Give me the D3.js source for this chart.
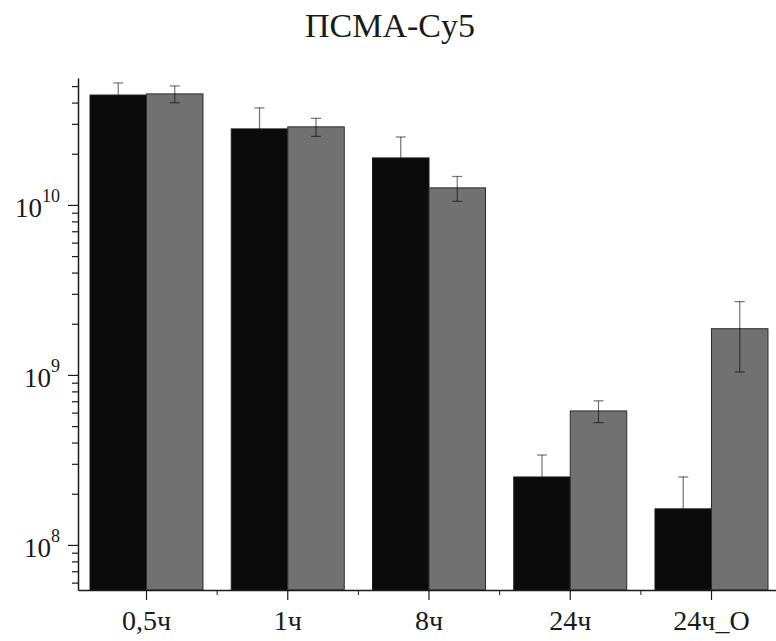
<!DOCTYPE html>
<html>
<head>
<meta charset="utf-8">
<script src="https://cdn.jsdelivr.net/npm/d3@7"></script>
<style>
  html, body { margin: 0; padding: 0; background: #fff; }
  svg { display: block; }
  text { font-family: "Liberation Serif", "Times New Roman", Times, serif; fill: #1a1a1a; }
</style>
</head>
<body>
<svg id="chart" width="776" height="641"></svg>
<script>
// Time points after injection
const categories = ["0,5ч", "1ч", "8ч", "24ч", "24ч_О"];
// Series drawn in black and in grey, with their error values
const seriesBlack = [4.43e10, 2.80e10, 1.89e10, 2.51e8, 1.63e8];
const errorBlack  = [0.79e10, 0.92e10, 0.62e10, 0.87e8, 0.88e8];
const seriesGrey  = [4.50e10, 2.88e10, 1.26e10, 6.14e8, 1.87e9];
const errorGrey   = [0.51e10, 0.35e10, 0.21e10, 0.90e8, 0.83e9];
// Log axis limits and labelled decades
const yDomain = [5.43e7, 5.58e10];
const majorTicks = [1e8, 1e9, 1e10];
const titleText = "ПСМА-Cy5";

const serif = "'Liberation Serif', 'Times New Roman', Times, serif";
const svg = d3.select("#chart");
const plot = { left: 78, right: 780, top: 78, bottom: 590 };

const x0 = d3.scaleBand()
  .domain(categories)
  .range([plot.left, plot.right])
  .paddingInner(0.2)
  .paddingOuter(0.085);

const x1 = d3.scaleBand()
  .domain(["black", "grey"])
  .range([0, x0.bandwidth()]);

const y = d3.scaleLog()
  .domain(yDomain)
  .range([plot.bottom, plot.top]);

// minor ticks: 2..9 times each decade inside the domain
const minorTicks = [];
for (let e = 7; e <= 10; e++) {
  for (let k = 2; k <= 9; k++) {
    const v = k * Math.pow(10, e);
    if (v >= yDomain[0] && v <= yDomain[1]) minorTicks.push(v);
  }
}

// Title
svg.append("text")
  .attr("x", 390)
  .attr("y", 37)
  .attr("text-anchor", "middle")
  .style("font-family", serif)
  .style("font-size", "34px")
  .text(titleText);

const series = [
  { key: "black", values: seriesBlack, errors: errorBlack, fill: "#0b0b0b", stroke: "#1a1a1a" },
  { key: "grey",  values: seriesGrey,  errors: errorGrey,  fill: "#717171", stroke: "#2e2e2e" }
];

const capHalf = 5;
const cx = (cat, key) => x0(cat) + x1(key) + x1.bandwidth() / 2;

function drawErrorBars(s) {
  const pts = categories.map((c, i) => ({ cat: c, value: s.values[i], err: s.errors[i] }));
  const g = svg.append("g")
    .attr("stroke", "#000")
    .attr("stroke-opacity", 0.55)
    .attr("stroke-width", 1.2)
    .selectAll("g")
    .data(pts)
    .join("g");
  g.append("line")
    .attr("x1", d => cx(d.cat, s.key)).attr("x2", d => cx(d.cat, s.key))
    .attr("y1", d => y(d.value + d.err))
    .attr("y2", d => y(d.value - d.err));
  [1, -1].forEach(sign => {
    g.append("line")
      .attr("x1", d => cx(d.cat, s.key) - capHalf)
      .attr("x2", d => cx(d.cat, s.key) + capHalf)
      .attr("y1", d => y(d.value + sign * d.err))
      .attr("y2", d => y(d.value + sign * d.err));
  });
}

function drawBars(s) {
  svg.append("g")
    .selectAll("rect")
    .data(categories.map((c, i) => ({ cat: c, value: s.values[i] })))
    .join("rect")
    .attr("x", d => x0(d.cat) + x1(s.key))
    .attr("width", x1.bandwidth())
    .attr("y", d => y(d.value))
    .attr("height", d => plot.bottom - y(d.value))
    .attr("fill", s.fill)
    .attr("stroke", s.stroke)
    .attr("stroke-width", 1);
}

// black bars cover the lower half of their whiskers; grey bars show them on top
drawErrorBars(series[0]);
drawBars(series[0]);
drawBars(series[1]);
drawErrorBars(series[1]);

// Y axis: major ticks with line, minor ticks without
svg.append("g")
  .attr("transform", `translate(${plot.left},0)`)
  .call(d3.axisLeft(y).tickValues(majorTicks).tickSize(10).tickSizeOuter(0).tickFormat(""));

svg.append("g")
  .attr("transform", `translate(${plot.left},0)`)
  .call(d3.axisLeft(y).tickValues(minorTicks).tickSize(6).tickFormat(""))
  .call(g => g.select(".domain").remove());

// Decade labels as 10 with superscript exponent
const yLabels = svg.append("g");
majorTicks.forEach(v => {
  const t = yLabels.append("text")
    .attr("x", 60)
    .attr("y", y(v) + 12)
    .attr("text-anchor", "end")
    .style("font-family", serif)
    .style("font-size", "27px");
  t.append("tspan").text("10");
  t.append("tspan")
    .attr("dy", -15)
    .style("font-size", "18px")
    .text(String(Math.round(Math.log10(v))));
});

// X axis
const xAxis = svg.append("g")
  .attr("transform", `translate(0,${plot.bottom})`)
  .call(d3.axisBottom(x0).tickSize(10).tickSizeOuter(0));

xAxis.selectAll("text")
  .attr("y", 40)
  .attr("dy", 0)
  .style("font-size", "28px")
  .style("font-family", serif)
  .attr("fill", "#1a1a1a");

// minor ticks halfway between categories
const midPoints = categories.slice(1).map((c, i) =>
  (x0(categories[i]) + x0.bandwidth() / 2 + x0(c) + x0.bandwidth() / 2) / 2);
svg.append("g")
  .selectAll("line")
  .data(midPoints)
  .join("line")
  .attr("x1", d => d).attr("x2", d => d)
  .attr("y1", plot.bottom).attr("y2", plot.bottom + 5)
  .attr("stroke", "#1a1a1a").attr("stroke-width", 1);

svg.selectAll(".domain").attr("stroke", "#1a1a1a").attr("stroke-width", 1.5);
svg.selectAll(".tick line").attr("stroke", "#1a1a1a").attr("stroke-width", 1.2);
</script>
</body>
</html>
